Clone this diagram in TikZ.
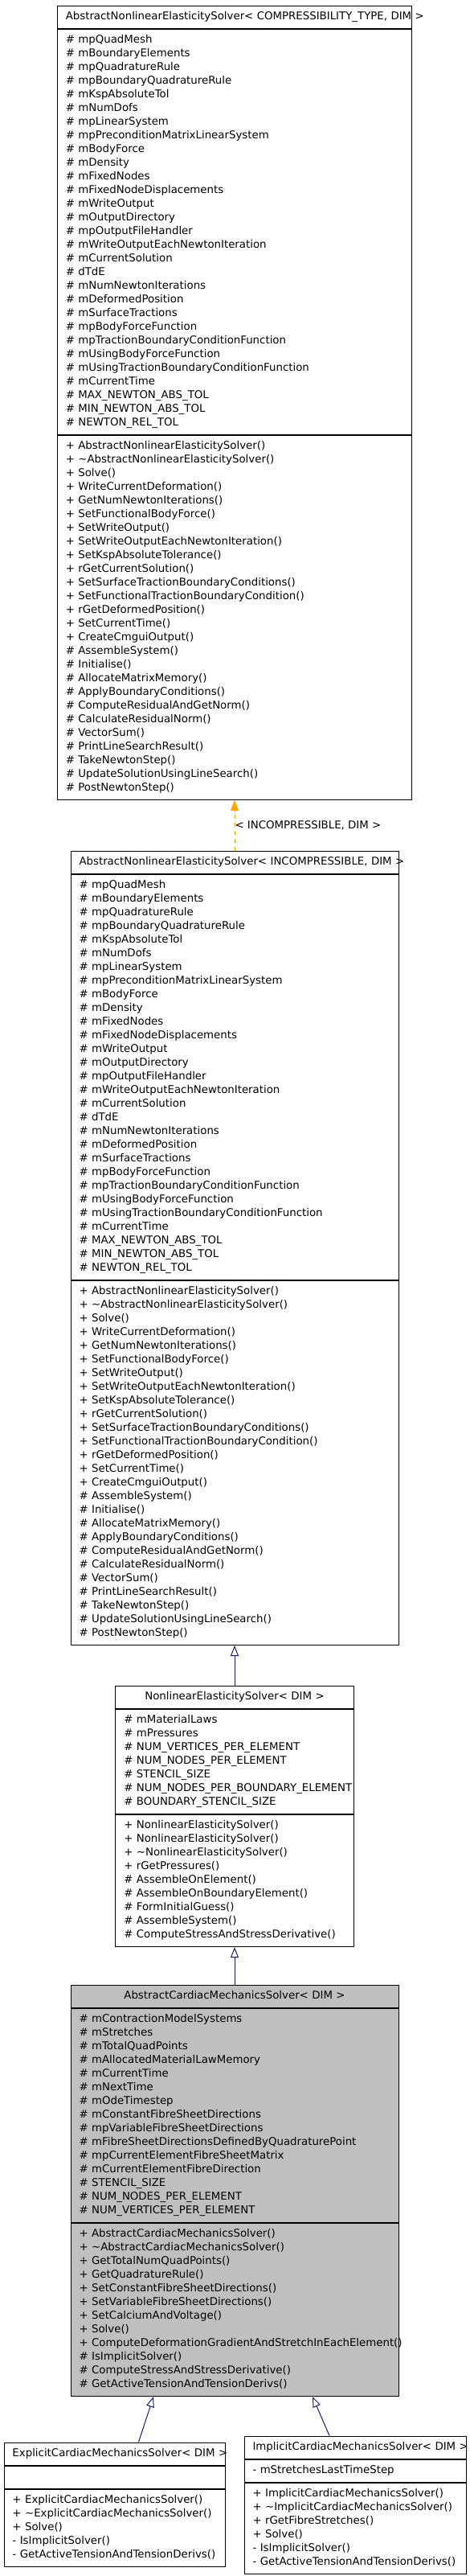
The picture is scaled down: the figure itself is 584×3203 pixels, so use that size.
\documentclass[tikz,border=0pt]{standalone}
\usepackage{fontspec}
\setmainfont{DejaVu Sans}
\usetikzlibrary{positioning,arrows.meta}

\definecolor{edgeblue}{HTML}{191970}
\definecolor{edgeorange}{HTML}{FFA500}
\definecolor{classgray}{HTML}{BFBFBF}

% one compartment of a class box, one row per member
\newcommand{\members}[1]{\begin{tabular}{@{}l@{}}#1\end{tabular}}

\newcommand{\nlattrs}{%
  \# mpQuadMesh\\ \# mBoundaryElements\\ \# mpQuadratureRule\\
  \# mpBoundaryQuadratureRule\\ \# mKspAbsoluteTol\\ \# mNumDofs\\
  \# mpLinearSystem\\ \# mpPreconditionMatrixLinearSystem\\ \# mBodyForce\\
  \# mDensity\\ \# mFixedNodes\\ \# mFixedNodeDisplacements\\
  \# mWriteOutput\\ \# mOutputDirectory\\ \# mpOutputFileHandler\\
  \# mWriteOutputEachNewtonIteration\\ \# mCurrentSolution\\ \# dTdE\\
  \# mNumNewtonIterations\\ \# mDeformedPosition\\ \# mSurfaceTractions\\
  \# mpBodyForceFunction\\ \# mpTractionBoundaryConditionFunction\\
  \# mUsingBodyForceFunction\\ \# mUsingTractionBoundaryConditionFunction\\
  \# mCurrentTime\\ \# MAX\_NEWTON\_ABS\_TOL\\ \# MIN\_NEWTON\_ABS\_TOL\\
  \# NEWTON\_REL\_TOL}

\newcommand{\nlmethods}{%
  + AbstractNonlinearElasticitySolver()\\
  + \textasciitilde AbstractNonlinearElasticitySolver()\\
  + Solve()\\ + WriteCurrentDeformation()\\ + GetNumNewtonIterations()\\
  + SetFunctionalBodyForce()\\ + SetWriteOutput()\\
  + SetWriteOutputEachNewtonIteration()\\ + SetKspAbsoluteTolerance()\\
  + rGetCurrentSolution()\\ + SetSurfaceTractionBoundaryConditions()\\
  + SetFunctionalTractionBoundaryCondition()\\ + rGetDeformedPosition()\\
  + SetCurrentTime()\\ + CreateCmguiOutput()\\ \# AssembleSystem()\\
  \# Initialise()\\ \# AllocateMatrixMemory()\\ \# ApplyBoundaryConditions()\\
  \# ComputeResidualAndGetNorm()\\ \# CalculateResidualNorm()\\
  \# VectorSum()\\ \# PrintLineSearchResult()\\ \# TakeNewtonStep()\\
  \# UpdateSolutionUsingLineSearch()\\ \# PostNewtonStep()}

\begin{document}
\begin{tikzpicture}
  [x=1pt, y=-1pt,
   box/.style={draw, line width=1pt, fill=white, inner xsep=10.5pt,
     inner ysep=0pt, text width=#1, align=left, anchor=north,
     font=\fontsize{13.33}{17}\selectfont},
   head/.style={align=center, minimum height=28pt},
   rows/.style={minimum height=#1*17pt+11pt},
   inh/.style={draw=edgeblue, line width=1pt,
     -{Triangle[open, length=13pt, width=10pt, fill=white]}},
   tmpl/.style={draw=edgeorange, line width=1pt, dash pattern=on 5pt off 5pt,
     -{Triangle[length=13pt, width=10pt]}}]
  \useasboundingbox (0,0) rectangle (584,3203);

  % template base
  \node (h1) [box=420.5pt, head] at (292,7)
    {\members{AbstractNonlinearElasticitySolver< COMPRESSIBILITY\_TYPE, DIM >}};
  \node (a1) [box=420.5pt, rows=29, below=0pt of h1] {\members{\nlattrs}};
  \node (m1) [box=420.5pt, rows=26, below=0pt of a1] {\members{\nlmethods}};

  % instance
  \node (h2) [box=387pt, head] at (292,1058)
    {\members{AbstractNonlinearElasticitySolver< INCOMPRESSIBLE, DIM >}};
  \node (a2) [box=387pt, rows=29, below=0pt of h2] {\members{\nlattrs}};
  \node (m2) [box=387pt, rows=26, below=0pt of a2] {\members{\nlmethods}};

  \node (h3) [box=275.5pt, head] at (292,2096)
    {\members{NonlinearElasticitySolver< DIM >}};
  \node (a3) [box=275.5pt, rows=7, below=0pt of h3]
    {\members{\# mMaterialLaws\\ \# mPressures\\ \# NUM\_VERTICES\_PER\_ELEMENT\\
      \# NUM\_NODES\_PER\_ELEMENT\\ \# STENCIL\_SIZE\\
      \# NUM\_NODES\_PER\_BOUNDARY\_ELEMENT\\ \# BOUNDARY\_STENCIL\_SIZE}};
  \node (m3) [box=275.5pt, rows=9, below=0pt of a3]
    {\members{+ NonlinearElasticitySolver()\\ + NonlinearElasticitySolver()\\
      + \textasciitilde NonlinearElasticitySolver()\\ + rGetPressures()\\
      \# AssembleOnElement()\\ \# AssembleOnBoundaryElement()\\
      \# FormInitialGuess()\\ \# AssembleSystem()\\
      \# ComputeStressAndStressDerivative()}};

  \node (h4) [box=387pt, head, fill=classgray] at (292,2468)
    {\members{AbstractCardiacMechanicsSolver< DIM >}};
  \node (a4) [box=387pt, rows=15, fill=classgray, below=0pt of h4]
    {\members{\# mContractionModelSystems\\ \# mStretches\\ \# mTotalQuadPoints\\
      \# mAllocatedMaterialLawMemory\\ \# mCurrentTime\\ \# mNextTime\\
      \# mOdeTimestep\\ \# mConstantFibreSheetDirections\\
      \# mpVariableFibreSheetDirections\\
      \# mFibreSheetDirectionsDefinedByQuadraturePoint\\
      \# mpCurrentElementFibreSheetMatrix\\ \# mCurrentElementFibreDirection\\
      \# STENCIL\_SIZE\\ \# NUM\_NODES\_PER\_ELEMENT\\
      \# NUM\_VERTICES\_PER\_ELEMENT}};
  \node (m4) [box=387pt, rows=12, fill=classgray, below=0pt of a4]
    {\members{+ AbstractCardiacMechanicsSolver()\\
      + \textasciitilde AbstractCardiacMechanicsSolver()\\
      + GetTotalNumQuadPoints()\\ + GetQuadratureRule()\\
      + SetConstantFibreSheetDirections()\\ + SetVariableFibreSheetDirections()\\
      + SetCalciumAndVoltage()\\ + Solve()\\
      + ComputeDeformationGradientAndStretchInEachElement()\\
      \# IsImplicitSolver()\\ \# ComputeStressAndStressDerivative()\\
      \# GetActiveTensionAndTensionDerivs()}};

  \node (h5) [box=254pt, head] at (142.5,3036.5)
    {\members{ExplicitCardiacMechanicsSolver< DIM >}};
  \node (a5) [box=254pt, rows=1, below=0pt of h5] {};
  \node (m5) [box=254pt, rows=5, below=0pt of a5]
    {\members{+ ExplicitCardiacMechanicsSolver()\\
      + \textasciitilde ExplicitCardiacMechanicsSolver()\\ + Solve()\\
      - IsImplicitSolver()\\ - GetActiveTensionAndTensionDerivs()}};

  \node (h6) [box=255pt, head] at (442,3028.5)
    {\members{ImplicitCardiacMechanicsSolver< DIM >}};
  \node (a6) [box=255pt, rows=1, below=0pt of h6]
    {\members{- mStretchesLastTimeStep}};
  \node (m6) [box=255pt, rows=6, below=0pt of a6]
    {\members{+ ImplicitCardiacMechanicsSolver()\\
      + \textasciitilde ImplicitCardiacMechanicsSolver()\\
      + rGetFibreStretches()\\ + Solve()\\ - IsImplicitSolver()\\
      - GetActiveTensionAndTensionDerivs()}};

  % relations
  \draw[tmpl] (h2) -- (m1)
    node (bind) [midway, anchor=west, inner sep=0pt,
      font=\fontsize{13.33}{17}\selectfont] {< INCOMPRESSIBLE, DIM >};
  \draw[inh] (h3) -- (m2);
  \draw[inh] (h4) -- (m3);
  \draw[inh] ([xshift=30pt]h5.north) -- ([xshift=-101pt]m4.south);
  \draw[inh] ([xshift=-32pt]h6.north) -- ([xshift=97pt]m4.south);
\end{tikzpicture}
\end{document}
